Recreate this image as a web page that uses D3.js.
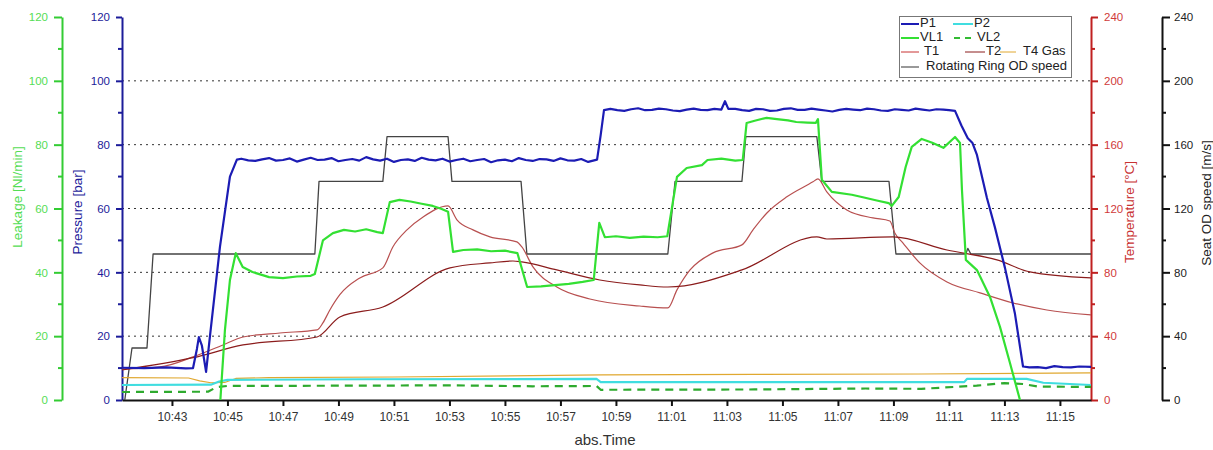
<!DOCTYPE html>
<html>
<head>
<meta charset="utf-8">
<script src="https://cdn.jsdelivr.net/npm/d3@7"></script>
<style>
html,body{margin:0;padding:0;background:#fff;}
svg{display:block;font-family:"Liberation Sans",Arial,sans-serif;}
</style>
</head>
<body>
<svg id="chart" width="1213" height="450"></svg>
<script>
// ---- data (time in minutes after 10:00) ----
const xTickLabels = ["10:43","10:45","10:47","10:49","10:51","10:53","10:55","10:57","10:59","11:01","11:03","11:05","11:07","11:09","11:11","11:13","11:15"];
const timeDomain = [41.2, 76.12];
const pressureTicks = [0,20,40,60,80,100,120];
const leakageTicks = [0,20,40,60,80,100,120];
const tempTicks = [0,40,80,120,160,200,240];
const speedTicks = [0,40,80,120,160,200,240];
const gridValues = [20,40,60,80,100];

const P1 = [[41.2,10.1],[42,10.0],[42.8,10.2],[43.5,9.9],[43.76,10.0],[43.9,16],[43.97,19.7],[44.08,17],[44.23,8.8],[44.37,20],[44.73,48],[45.09,70],[45.34,75.3],
[45.5,75.6],[45.75,75.1],[46,74.9],[46.25,75.4],[46.5,75.8],[46.75,75.0],[47,75.2],[47.25,75.7],[47.5,74.7],[47.75,75.3],[48,75.9],[48.25,75.2],[48.5,75.3],[48.75,75.8],[49,74.8],[49.25,75.2],[49.5,75.5],[49.75,75.0],[50,76.1],[50.25,75.4],[50.5,75.0],[50.75,75.6],[51,74.6],[51.25,75.2],[51.5,75.4],[51.75,74.9],[52,75.9],[52.25,75.3],[52.5,75.1],[52.75,75.6],[53,74.7],[53.25,75.2],[53.5,75.6],[53.75,74.8],[54,75.2],[54.25,75.5],[54.5,74.5],[54.75,75.1],[55,75.3],[55.25,74.8],[55.5,75.8],[55.75,75.2],[56,74.9],[56.25,75.5],[56.5,75.4],[56.75,74.9],[57,75.7],[57.25,75.1],[57.5,75.0],[57.75,75.5],[58,74.6],
[58.32,75.3],[58.45,83],[58.57,90.8],
[58.8,91.2],[59.05,90.8],[59.3,90.6],[59.55,91.1],[59.8,91.4],[60.05,90.8],[60.3,90.9],[60.55,91.3],[60.8,91.1],[61.05,90.7],[61.3,90.5],[61.55,91.0],[61.8,91.3],[62.05,90.9],[62.3,90.8],[62.55,91.2],[62.8,91.0],[62.93,93.6],[63.05,91.2],[63.3,91.2],[63.55,90.8],[63.8,90.6],[64.05,91.2],[64.3,91.1],[64.55,90.6],[64.8,90.7],[65.05,91.2],[65.3,91.4],[65.55,90.9],[65.8,90.9],[66.05,91.3],[66.3,91.0],[66.55,90.7],[66.8,90.4],[67.05,90.9],[67.3,91.2],[67.55,91.0],[67.8,90.8],[68.05,91.3],[68.3,91.1],[68.55,90.7],[68.8,90.6],[69.05,91.1],[69.3,90.9],[69.55,90.7],[69.8,91.3],[70.05,91.0],[70.3,90.7],[70.55,91.1],[70.8,91.0],[71.0,90.8],[71.22,90.6],
[71.45,86],[71.68,82],[71.85,80.5],[72.01,76.8],[72.37,63.3],[72.66,54],[73.02,41.4],[73.38,27],[73.67,10.5],[73.9,10.2],[74.2,10.3],[74.5,10.0],[74.8,10.6],[75.1,10.3],[75.4,10.2],[75.7,10.5],[76.12,10.4]];

const P2 = [[41.2,4.7],[44.4,4.8],[44.7,5.8],[45.0,6.3],[50,6.5],[58.3,6.6],[58.45,5.6],[71.55,5.6],[71.65,6.6],[73.8,6.6],[74.4,5.4],[76.12,4.7]];

const VL1 = [[44.73,-2],[44.91,22],[45.09,37.6],[45.3,46],[45.55,41.7],[45.9,40.1],[46.5,38.5],[47.0,38.2],[47.5,38.7],[48.0,38.9],[48.15,39.5],[48.44,50],[48.8,52.3],[49.2,53.3],[49.6,52.8],[50.0,53.5],[50.4,52.6],[50.6,52.3],[50.85,62],[51.2,62.7],[51.6,62.2],[52.0,61.5],[52.4,60.8],[52.7,59.9],[52.95,59],[53.13,46.4],[53.5,47],[54.0,47.2],[54.5,46.6],[55.0,46.8],[55.45,46],[55.8,35.4],[56.3,35.6],[56.8,36],[57.3,36.4],[57.8,37],[58.2,37.6],[58.4,55.5],[58.6,51],[59.0,51.3],[59.5,50.8],[60.0,51.2],[60.5,51],[60.85,51.3],[61.2,69.9],[61.55,72.7],[62.1,73.6],[62.3,75.2],[62.8,75.6],[63.3,75.0],[63.57,75.2],[63.71,86.8],[64.0,87.5],[64.43,88.4],[64.8,88.0],[65.2,87.6],[65.5,87.1],[65.9,86.9],[66.2,86.8],[66.28,88],[66.42,69],[66.78,65.2],[67.5,64.3],[67.86,63.6],[68.4,62.5],[68.83,61.7],[68.94,60.8],[69.19,63.6],[69.44,73],[69.66,79.3],[70.02,81.8],[70.4,80.6],[70.8,79],[71.22,82.4],[71.4,80.5],[71.47,65.8],[71.61,43.9],[72.01,40.7],[72.48,32.3],[72.84,22.9],[73.2,11.6],[73.56,0],[73.7,-5]];

const VL2 = [[41.2,2.5],[44.3,2.6],[44.6,4.0],[45.0,4.4],[50,4.5],[53,4.6],[56,4.3],[58.3,4.4],[58.45,3.2],[64,3.3],[68,3.6],[70,3.5],[72,4.5],[73.0,5.3],[73.7,5.0],[74.2,4.2],[76.12,4.1]];

const T1 = [[41.2,19.4],[42.57,20.7],[43.76,27],[44.84,34.5],[45.56,39.5],[46.89,42],[48.23,43.9],[48.44,48.3],[48.69,56.4],[49.05,66],[49.77,76.5],[50.6,82.8],[50.96,95.9],[51.47,106.6],[52.05,114.7],[52.95,121.6],[53.27,112.9],[53.85,106.6],[54.46,102.2],[55.43,99.1],[55.61,95.9],[56.01,83.4],[56.87,70.8],[58.06,63.3],[59.86,58.9],[60.87,57.7],[61.2,69],[61.67,81.5],[62.5,92.2],[63.54,97.2],[63.94,106.6],[64.44,117.2],[65.16,127.3],[66.1,136.7],[66.28,138.6],[66.6,130.4],[67.32,119.1],[68.26,114.1],[68.87,112.2],[69.05,104.7],[69.34,98.4],[69.95,85.9],[70.93,74],[72.12,67.1],[73.31,60.8],[74.53,56.4],[76.12,53.3]];

const T2 = [[41.2,18.8],[43.76,26.5],[45.56,34.5],[48.23,39.5],[49.05,52],[50.6,58.3],[53.02,82.8],[54.46,85.9],[55.29,87.1],[55.61,86.5],[56.87,81.5],[58.42,75.2],[59.86,72.1],[60.87,70.8],[63.54,81.5],[66.24,102.2],[66.6,100.9],[68.98,102.2],[70.93,94],[72.73,87.8],[73.92,80.3],[76.12,76.5]];

const T4 = [[41.2,14],[43.6,13.8],[44.0,12],[44.4,10.8],[44.9,11],[45.3,13.5],[46.5,14],[51,14.4],[58.5,15.7],[64,16.0],[70,16.3],[76.12,17.0]];

const SPEED = [[41.3,0],[41.56,32.6],[42.1,32.6],[42.32,91.5],[48.15,91.5],[48.3,137],[50.6,137],[50.75,165],[52.95,165],[53.09,137],[55.58,137],[55.79,91.5],[60.87,91.5],[61.13,137],[63.54,137],[63.68,165],[66.24,165],[66.42,137],[68.84,137],[69.09,91.5],[71.61,91.5],[71.68,95],[71.79,91.5],[76.12,91.5]];

// ---- layout ----
const L = 122, R = 1091, T = 17, B = 400;
const base = new Date(2000,0,1,10,0,0);
const toDate = m => new Date(base.getTime() + m*60000);
const parseHM = d3.timeParse("%H:%M");
const hmDate = s => { const d = parseHM(s); return new Date(2000,0,1,d.getHours(),d.getMinutes(),0); };

const x = d3.scaleTime().domain(timeDomain.map(toDate)).range([L, R]);
const yP = d3.scaleLinear().domain([0,120]).range([B, T]);
const yL = d3.scaleLinear().domain([0,120]).range([B, T]);
const yT = d3.scaleLinear().domain([0,240]).range([B, T]);
const yS = d3.scaleLinear().domain([0,240]).range([B, T]);

const svg = d3.select("#chart");
svg.append("defs").append("clipPath").attr("id","clip")
  .append("rect").attr("x",L).attr("y",T-2).attr("width",R-L).attr("height",B-T+2);

// grid
svg.append("g").selectAll("line").data(gridValues).join("line")
  .attr("x1",L).attr("x2",R).attr("y1",d=>yP(d)).attr("y2",d=>yP(d))
  .attr("stroke","#333").attr("stroke-width",1).attr("stroke-dasharray","2,4");

const font = "Liberation Sans, Arial, sans-serif";
function styleAxis(g, color, labelColor, width){
  g.select(".domain").attr("stroke",color).attr("stroke-width",width);
  g.selectAll(".tick line").attr("stroke",color).attr("stroke-width",width);
  g.selectAll(".tick text").attr("fill",labelColor).attr("font-size","11.5px").attr("font-family",font);
}
function minorTicks(scale, ticks, xpos, dir, color, width){
  const minors = [];
  for(let i=0;i<ticks.length-1;i++) minors.push((ticks[i]+ticks[i+1])/2);
  svg.append("g").selectAll("line").data(minors).join("line")
    .attr("x1",xpos).attr("x2",xpos+dir*4).attr("y1",d=>scale(d)).attr("y2",d=>scale(d))
    .attr("stroke",color).attr("stroke-width",width);
}

// leakage axis
const gL = svg.append("g").attr("transform","translate(62,0)")
  .call(d3.axisLeft(yL).tickValues(leakageTicks).tickSize(8).tickPadding(6).tickSizeOuter(0));
styleAxis(gL,"#33cc33","#55dd55",2);
minorTicks(yL,leakageTicks,62,-1,"#33cc33",2);
// pressure axis
const gP = svg.append("g").attr("transform",`translate(${L},0)`)
  .call(d3.axisLeft(yP).tickValues(pressureTicks).tickSize(6).tickPadding(6).tickSizeOuter(0));
styleAxis(gP,"#1c1c9a","#1c1c9a",2);
minorTicks(yP,pressureTicks,L,-1,"#1c1c9a",2);
// temperature axis
const gT = svg.append("g").attr("transform",`translate(${R},0)`)
  .call(d3.axisRight(yT).tickValues(tempTicks).tickSize(7).tickPadding(6).tickSizeOuter(0));
styleAxis(gT,"#c02020","#d03a3a",2);
minorTicks(yT,tempTicks,R,1,"#c02020",2);
// speed axis
const gS = svg.append("g").attr("transform","translate(1162,0)")
  .call(d3.axisRight(yS).tickValues(speedTicks).tickSize(8).tickPadding(4).tickSizeOuter(0));
styleAxis(gS,"#111","#222",2);
minorTicks(yS,speedTicks,1162,1,"#111",2);
// x axis
const gX = svg.append("g").attr("transform",`translate(0,${B})`)
  .call(d3.axisBottom(x).tickValues(xTickLabels.map(hmDate)).tickFormat(d3.timeFormat("%H:%M")).tickSize(6).tickPadding(6).tickSizeOuter(0));
styleAxis(gX,"#111","#333",2);
gX.selectAll(".tick text").attr("font-size","12px");

// axis titles
function vTitle(txt,xp,yp,color){
  svg.append("text").attr("transform",`translate(${xp},${yp}) rotate(-90)`)
    .attr("text-anchor","middle").attr("dominant-baseline","middle")
    .attr("font-size","13.5px").attr("font-family",font).attr("fill",color).text(txt);
}
vTitle("Leakage [Nl/min]",18,197,"#55dd55");
vTitle("Pressure [bar]",78,212,"#1c1c9a");
vTitle("Temperature [°C]",1130,212,"#c83232");
vTitle("Seat OD speed [m/s]",1207,203,"#222");
svg.append("text").attr("x",605).attr("y",445).attr("text-anchor","middle")
  .attr("font-size","15px").attr("font-family",font).attr("fill","#333").text("abs.Time");

// series
const plot = svg.append("g").attr("clip-path","url(#clip)");
function draw(data, yScale, color, width, dash, curve){
  const line = d3.line().x(d=>x(toDate(d[0]))).y(d=>yScale(d[1])).curve(curve||d3.curveLinear);
  plot.append("path").datum(data).attr("d",line).attr("fill","none")
    .attr("stroke",color).attr("stroke-width",width)
    .attr("stroke-dasharray",dash||null).attr("stroke-linejoin","round");
}
const C = {P1:"#1c1cb4",P2:"#40dde0",VL1:"#33e033",VL2:"#2eaa2e",T1:"#b85050",T2:"#8b1c1c",T4:"#e0a830",SP:"#444"};
draw(SPEED,yS,C.SP,1.3);
draw(T4,yT,C.T4,1.2);
draw(T1,yT,C.T1,1.2,null,d3.curveMonotoneX);
draw(T2,yT,C.T2,1.2,null,d3.curveMonotoneX);
draw(P2,yP,C.P2,2.2);
draw(VL2,yL,C.VL2,2.2,"8,6");
draw(VL1,yL,C.VL1,2.2);
draw(P1,yP,C.P1,2.2);

// legend
const lg = svg.append("g");
lg.append("rect").attr("x",899.5).attr("y",16.5).attr("width",172).attr("height",61)
  .attr("fill","#fff").attr("stroke","#777").attr("stroke-width",1);
const legendItems = [
  {k:"P1",c:C.P1,x1:901,x2:919,tx:920,y:24,w:2},
  {k:"P2",c:C.P2,x1:953,x2:973,tx:974,y:24,w:2},
  {k:"VL1",c:C.VL1,x1:901,x2:919,tx:920,y:38,w:2},
  {k:"VL2",c:"#33bb33",x1:954,x2:975,tx:977,y:38,w:2,dash:"6,5"},
  {k:"T1",c:"#c83232",x1:901,x2:919,tx:924,y:52,w:1},
  {k:"T2",c:C.T2,x1:965,x2:985,tx:986,y:52,w:1},
  {k:"T4 Gas",c:C.T4,x1:1000,x2:1016,tx:1023,y:52,w:1},
  {k:"Rotating Ring OD speed",c:"#555",x1:901,x2:919,tx:926,y:67,w:1.2}
];
lg.selectAll("line").data(legendItems).join("line")
  .attr("x1",d=>d.x1).attr("x2",d=>d.x2).attr("y1",d=>d.y).attr("y2",d=>d.y)
  .attr("stroke",d=>d.c).attr("stroke-width",d=>d.w).attr("stroke-dasharray",d=>d.dash||null);
lg.selectAll("text").data(legendItems).join("text")
  .attr("x",d=>d.tx).attr("y",d=>d.y).attr("dominant-baseline","middle")
  .attr("font-size","13px").attr("font-family",font).attr("fill","#222").text(d=>d.k);
</script>
</body>
</html>
